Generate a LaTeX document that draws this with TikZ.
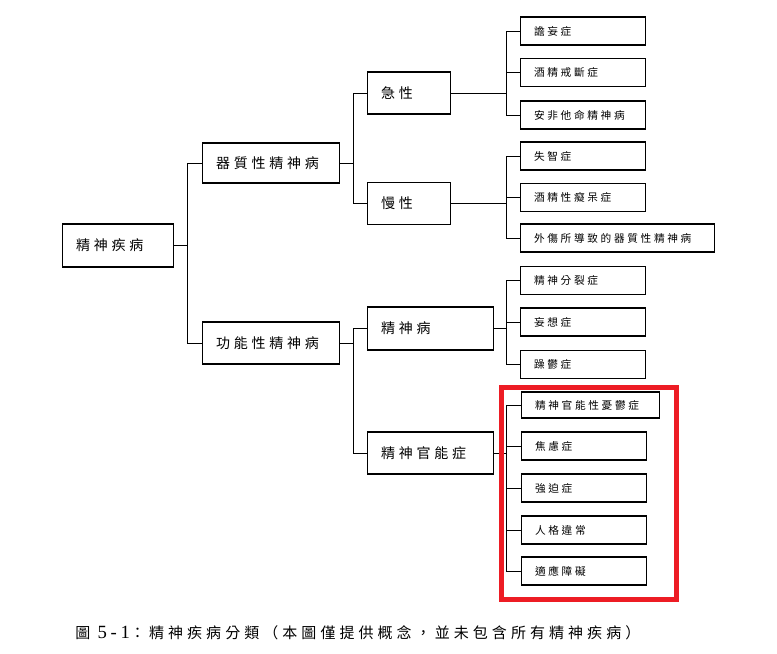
\documentclass[tikz,border=0pt]{standalone}
\usepackage{fontspec}
\newfontfamily\cjk[LetterSpace=27]{Noto Sans CJK TC}
\newfontfamily\cjkleaf[LetterSpace=25]{Noto Sans CJK TC}
\newfontfamily\numfont[LetterSpace=20]{Liberation Serif}
\definecolor{framered}{RGB}{237,28,36}
\tikzset{
  box/.style={draw=black, line width=1pt, rectangle, anchor=west, inner xsep=10pt, inner ysep=0pt,
    align=left, minimum height=31.5pt, font=\cjk\fontsize{10.5}{12}\selectfont},
  leaf/.style={box, minimum height=21pt, font=\cjkleaf\fontsize{8}{10}\selectfont, text width=#1},
  leaf/.default=73.75pt,
  link/.style={draw=black, line width=0.75pt},
  redframe/.style={draw=framered, line width=3.75pt}
}
\begin{document}
\begin{tikzpicture}[x=0.75pt, y=-0.75pt]

     % Fondo y margenes
     \fill[white] (0,0) rectangle (777,653);
     \useasboundingbox (0,0) rectangle (777,653);

     % Raiz y primer nivel
     \node[box, text width=63.25pt, minimum height=32.25pt] (root) at (62,245.5) {精神疾病};
     \node[box, text width=82.75pt, minimum height=30pt] (organic) at (202,163) {器質性精神病};
     \node[box, text width=82.75pt] (functional) at (202,343) {功能性精神病};

     % Segundo nivel
     \node[box, text width=42.25pt] (acute) at (367,93) {急性};
     \node[box, text width=42.25pt] (chronic) at (367,203.5) {慢性};
     \node[box, text width=74.5pt, minimum height=32.25pt] (psychosis) at (367,328.5) {精神病};
     \node[box, text width=74.5pt] (neurosis) at (367,453) {精神官能症};

     % Hojas de la rama aguda
     \node[leaf] (delirium) at (520,31) {譫妄症};
     \node[leaf] (withdrawal) at (520,72.5) {酒精戒斷症};
     \node[leaf] (amphet) at (520,115) {安非他命精神病};

     % Hojas de la rama cronica
     \node[leaf] (dementia) at (520,156) {失智症};
     \node[leaf] (alcdem) at (520,197.5) {酒精性癡呆症};
     \node[leaf=125.5pt] (trauma) at (520,238) {外傷所導致的器質性精神病};

     % Hojas de psicosis
     \node[leaf] (schizo) at (520,280.5) {精神分裂症};
     \node[leaf] (paranoia) at (520,322) {妄想症};
     \node[leaf] (bipolar) at (520,364.5) {躁鬱症};

     % Hojas de neurosis
     \node[leaf=83.5pt, minimum height=19.5pt] (dysthymia) at (521,405) {精神官能性憂鬱症};
     \node[leaf] (anxiety) at (521,446) {焦慮症};
     \node[leaf] (ocd) at (521,488) {強迫症};
     \node[leaf] (persona) at (521,530) {人格違常};
     \node[leaf] (adjust) at (521,571) {適應障礙};

     % Columnas de los conectores
     \coordinate (b0) at (187,0);
     \coordinate (bm) at (353,0);
     \coordinate (bl) at (506,0);

     % Conectores del primer nivel
     \draw[link] (root.east) -- (root.east -| b0);
     \draw[link] (organic.west) -- (organic.west -| b0) -- (functional.west -| b0) -- (functional.west);

     % Conectores del segundo nivel
     \draw[link] (organic.east) -- (organic.east -| bm);
     \draw[link] (acute.west) -- (acute.west -| bm) -- (chronic.west -| bm) -- (chronic.west);
     \draw[link] (functional.east) -- (functional.east -| bm);
     \draw[link] (psychosis.west) -- (psychosis.west -| bm) -- (neurosis.west -| bm) -- (neurosis.west);

     % Conectores hacia las hojas
     \draw[link] (acute.east) -- (acute.east -| bl);
     \draw[link] (delirium.west) -- (delirium.west -| bl) -- (amphet.west -| bl) -- (amphet.west);
     \draw[link] (withdrawal.west) -- (withdrawal.west -| bl);

     \draw[link] (chronic.east) -- (chronic.east -| bl);
     \draw[link] (dementia.west) -- (dementia.west -| bl) -- (trauma.west -| bl) -- (trauma.west);
     \draw[link] (alcdem.west) -- (alcdem.west -| bl);

     \draw[link] (psychosis.east) -- (psychosis.east -| bl);
     \draw[link] (schizo.west) -- (schizo.west -| bl) -- (bipolar.west -| bl) -- (bipolar.west);
     \draw[link] (paranoia.west) -- (paranoia.west -| bl);

     \draw[link] (neurosis.east) -- (neurosis.east -| bl);
     \draw[link] (dysthymia.west) -- (dysthymia.west -| bl) -- (adjust.west -| bl) -- (adjust.west);
     \draw[link] (anxiety.west) -- (anxiety.west -| bl);
     \draw[link] (ocd.west) -- (ocd.west -| bl);
     \draw[link] (persona.west) -- (persona.west -| bl);

     % Marco rojo de las neurosis
     \draw[redframe] (501.5,387) rectangle (676.5,599.5);

     % Pie de figura
     \node[anchor=west, inner sep=0pt, font=\cjk\fontsize{11.25}{13}\selectfont] (caption) at (75,633)
       {圖 {\numfont\fontsize{14}{15}\selectfont 5-1}：精神疾病分類（本圖僅提供概念，並未包含所有精神疾病）};

\end{tikzpicture}
\end{document}
